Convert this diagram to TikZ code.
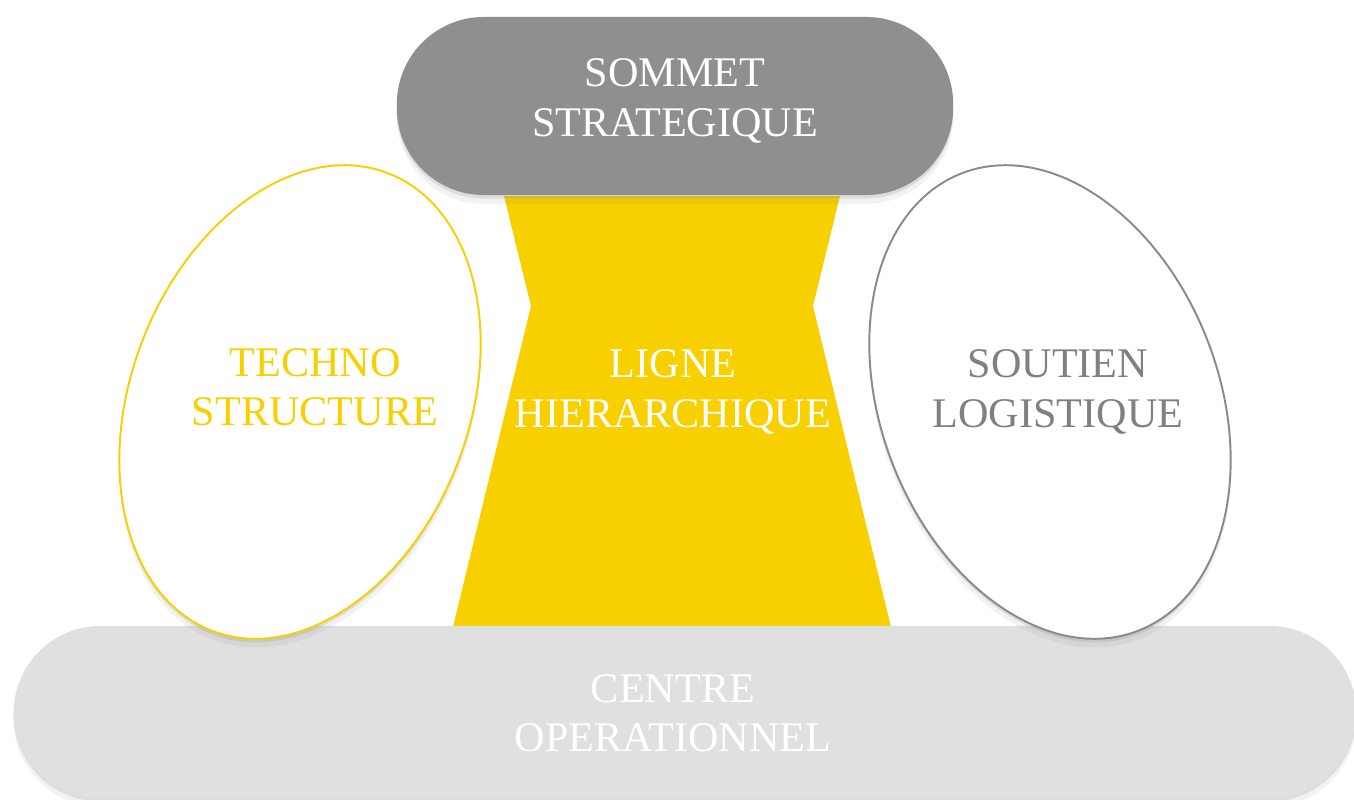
\documentclass[tikz,border=0pt]{standalone}
\usepackage{fontspec}
\setmainfont{Liberation Serif}
\usepackage{xcolor}
\usetikzlibrary{shapes.geometric,shadows}
\definecolor{gristop}{HTML}{8F8F8F}
\definecolor{jaune}{HTML}{F8D000}
\definecolor{clair}{HTML}{E0E0E0}
\definecolor{gris}{HTML}{8A8A8A}
\definecolor{grist}{HTML}{808080}
\tikzset{
  soft/.style={drop shadow={shadow xshift=0pt,shadow yshift=-1pt,opacity=.18},
               drop shadow={shadow xshift=0pt,shadow yshift=-2.5pt,opacity=.1}},
  pill/.style={rectangle, rounded corners=0.87cm, inner sep=0pt, soft},
  oeuf/.style={ellipse, minimum width=3.38cm, minimum height=4.9cm, inner sep=0pt,
               fill=white, line width=0.55pt, soft},
  lab/.style={align=center, font=\fontsize{12}{14}\selectfont, inner sep=0pt}
}
\begin{document}
\begin{tikzpicture}[x=0.01cm,y=-0.01cm]
  \fill[white] (0,0) rectangle (1354,800);
  \useasboundingbox (0,0) rectangle (1354,800);

  % ligne hierarchique (hourglass)
  \coordinate (LT) at (504,196);
  \coordinate (RT) at (840,196);
  \coordinate (LK) at (531,306);
  \coordinate (RK) at (813,306);
  \coordinate (LB) at (453,627);
  \coordinate (RB) at (891,627);
  \fill[jaune] (LT) -- (RT) -- (RK) -- (RB) -- (LB) -- (LK) -- cycle;

  % base and side parts
  \node[pill, fill=clair, minimum width=13.42cm, minimum height=1.72cm] (centre) at (685,712) {};
  \node[oeuf, draw=jaune, rotate=-21] (techno) at (300,402) {};
  \node[oeuf, draw=gris, rotate=21] (soutien) at (1050,402) {};
  \node[pill, fill=gristop, minimum width=5.56cm, minimum height=1.78cm] (sommet) at (675,106) {};

  \node[lab, text=white] (lsommet) at (675,101) {SOMMET\\STRATEGIQUE};
  \node[lab, text=white] (lligne) at (673,392) {LIGNE\\HIERARCHIQUE};
  \node[lab, text=jaune] (ltechno) at (315,387) {TECHNO\\STRUCTURE};
  \node[lab, text=grist] (lsoutien) at (1058,392) {SOUTIEN\\LOGISTIQUE};
  \node[lab, text=white] (lcentre) at (673,713) {CENTRE\\OPERATIONNEL};
\end{tikzpicture}
\end{document}
